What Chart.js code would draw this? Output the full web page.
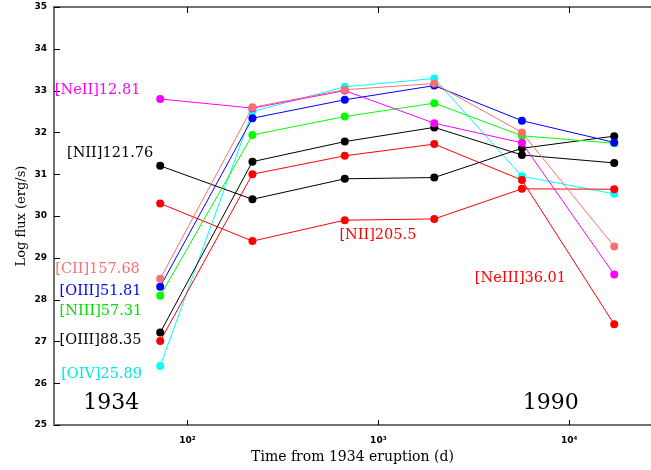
<!DOCTYPE html>
<html>
<head>
<meta charset="utf-8">
<script src="https://cdn.jsdelivr.net/npm/chart.js@4.4.1/dist/chart.umd.min.js"></script>
<style>
  body { margin: 0; background: #fff; }
  #wrap { width: 651px; height: 470px; }
</style>
</head>
<body>
<div id="wrap"><canvas id="fluxChart" width="651" height="470"></canvas></div>
<script>
// days since the 1934 eruption
const days = [72, 219, 667, 1963, 5650, 17200];

// log flux (erg/s) per line
const neII_1281  = [32.80, 32.58, 33.00, 32.22, 31.75, 28.60];
const cII_15768  = [28.50, 32.60, 33.02, 33.17, 32.00, 29.27];
const oIII_5181  = [28.31, 32.34, 32.78, 33.12, 32.28, 31.76];
const nIII_5731  = [28.09, 31.94, 32.38, 32.70, 31.92, 31.74];
const nII_12176  = [31.20, 30.40, 30.89, 30.92, 31.62, 31.91];
const oIII_8835  = [27.21, 31.30, 31.78, 32.12, 31.46, 31.27];
const nII_2055   = [30.30, 29.40, 29.90, 29.93, 30.65, 30.64];
const neIII_3601 = [27.01, 31.00, 31.44, 31.72, 30.86, 27.41];
const oIV_2589   = [26.41, 32.50, 33.09, 33.29, 30.95, 30.53];

const yTicks = [25, 26, 27, 28, 29, 30, 31, 32, 33, 34, 35];
const xTicks = [100, 1000, 10000];
const xTickLabels = ["10\u00b2", "10\u00b3", "10\u2074"];

// text labels placed in data coordinates: [text, days, logflux, colour, size]
const notes = [
    ["[NeII]12.81", 20.2, 33.0, "#ff00ff", 14.5],
    ["[NII]121.76", 23.4, 31.5, "#000000", 14.5],
    ["[CII]157.68", 20.3, 28.72, "#f87171", 14.5],
    ["[OIII]51.81", 21.4, 28.2, "#0000ff", 14.5],
    ["[NIII]57.31", 21.4, 27.73, "#00e000", 14.5],
    ["[OIII]88.35", 21.4, 27.02, "#000000", 14.5],
    ["[OIV]25.89", 21.8, 26.22, "#00e5e5", 14.5],
    ["[NII]205.5", 625, 29.53, "#ff0000", 14.5],
    ["[NeIII]36.01", 3200, 28.51, "#ff0000", 14.5],
    ["1934", 28.5, 25.53, "#000000", 22],
    ["1990", 5700, 25.53, "#000000", 22],
];

function line(data, color) {
    return {
        data: days.map((d, i) => ({ x: d, y: data[i] })),
        borderColor: color,
        backgroundColor: color,
        borderWidth: 1,
        pointRadius: 4,
        pointBorderWidth: 0,
        pointHoverRadius: 4,
        tension: 0,
        fill: false,
    };
}

const frame = {
    id: "frame",
    afterDatasetsDraw(chart) {
        const { ctx, chartArea: a, scales } = chart;
        ctx.save();
        ctx.strokeStyle = "#707070";
        ctx.lineWidth = 2;
        ctx.beginPath();
        ctx.moveTo(a.left, a.top);
        ctx.lineTo(a.right, a.top);
        ctx.moveTo(a.left, a.top - 1);
        ctx.lineTo(a.left, a.bottom + 1);
        ctx.moveTo(a.left, a.bottom);
        ctx.lineTo(a.right, a.bottom);
        ctx.stroke();

        ctx.strokeStyle = "#000";
        ctx.lineWidth = 1;
        ctx.beginPath();
        yTicks.forEach((v) => {
            const y = Math.round(scales.y.getPixelForValue(v)) + 0.5;
            ctx.moveTo(a.left, y);
            ctx.lineTo(a.left + 6, y);
        });
        xTicks.forEach((v) => {
            const x = Math.round(scales.x.getPixelForValue(v)) + 0.5;
            ctx.moveTo(x, a.bottom);
            ctx.lineTo(x, a.bottom - 5);
            ctx.moveTo(x, a.top);
            ctx.lineTo(x, a.top + 6);
        });
        ctx.stroke();

        ctx.textBaseline = "middle";
        ctx.textAlign = "left";
        notes.forEach(([t, d, v, c, s]) => {
            ctx.font = s + "px 'DejaVu Serif'";
            ctx.fillStyle = c;
            ctx.fillText(t, scales.x.getPixelForValue(d), scales.y.getPixelForValue(v));
        });
        ctx.restore();
    },
};

const ctx = document.getElementById("fluxChart").getContext("2d");

new Chart(ctx, {
    type: "line",
    data: {
        datasets: [
            line(cII_15768, "#f87171"),
            line(neII_1281, "#ff00ff"),
            line(oIII_5181, "#0000ff"),
            line(nIII_5731, "#00ff00"),
            line(nII_12176, "#000000"),
            line(oIII_8835, "#000000"),
            line(nII_2055, "#ff0000"),
            line(neIII_3601, "#ff0000"),
            line(oIV_2589, "#00ffff"),
        ],
    },
    options: {
        responsive: false,
        animation: false,
        devicePixelRatio: 1,
        layout: { autoPadding: false, padding: { top: 7, right: 0, left: 0, bottom: 0 } },
        plugins: { legend: { display: false }, tooltip: { enabled: false } },
        scales: {
            x: {
                type: "logarithmic",
                min: 20,
                max: 26800,
                afterBuildTicks: (s) => { s.ticks = xTicks.map((v) => ({ value: v })); },
                afterFit: (s) => { s.height = 45; s.paddingLeft = 0; s.paddingRight = 0; },
                grid: { display: false, drawTicks: false },
                border: { display: false },
                ticks: {
                    autoSkip: false,
                    maxRotation: 0,
                    padding: 10,
                    color: "#000",
                    font: { family: "'DejaVu Sans'", size: 9, weight: "bold" },
                    callback: (v) => xTickLabels[xTicks.indexOf(v)],
                },
                title: {
                    display: true,
                    text: "Time from 1934 eruption (d)",
                    color: "#000",
                    font: { family: "'DejaVu Serif'", size: 14 },
                    padding: { top: 0, bottom: 4 },
                },
            },
            y: {
                min: 25,
                max: 35,
                afterBuildTicks: (s) => { s.ticks = yTicks.map((v) => ({ value: v })); },
                afterFit: (s) => { s.width = 54; s.paddingTop = 0; s.paddingBottom = 0; },
                grid: { display: false, drawTicks: false },
                border: { display: false },
                ticks: {
                    autoSkip: false,
                    padding: 7,
                    color: "#000",
                    font: { family: "'DejaVu Sans'", size: 9, weight: "bold" },
                },
                title: {
                    display: true,
                    text: "Log flux (erg/s)",
                    color: "#000",
                    font: { family: "'DejaVu Serif'", size: 13 },
                    padding: { top: 14, bottom: 0 },
                },
            },
        },
    },
    plugins: [frame],
});
</script>
</body>
</html>
